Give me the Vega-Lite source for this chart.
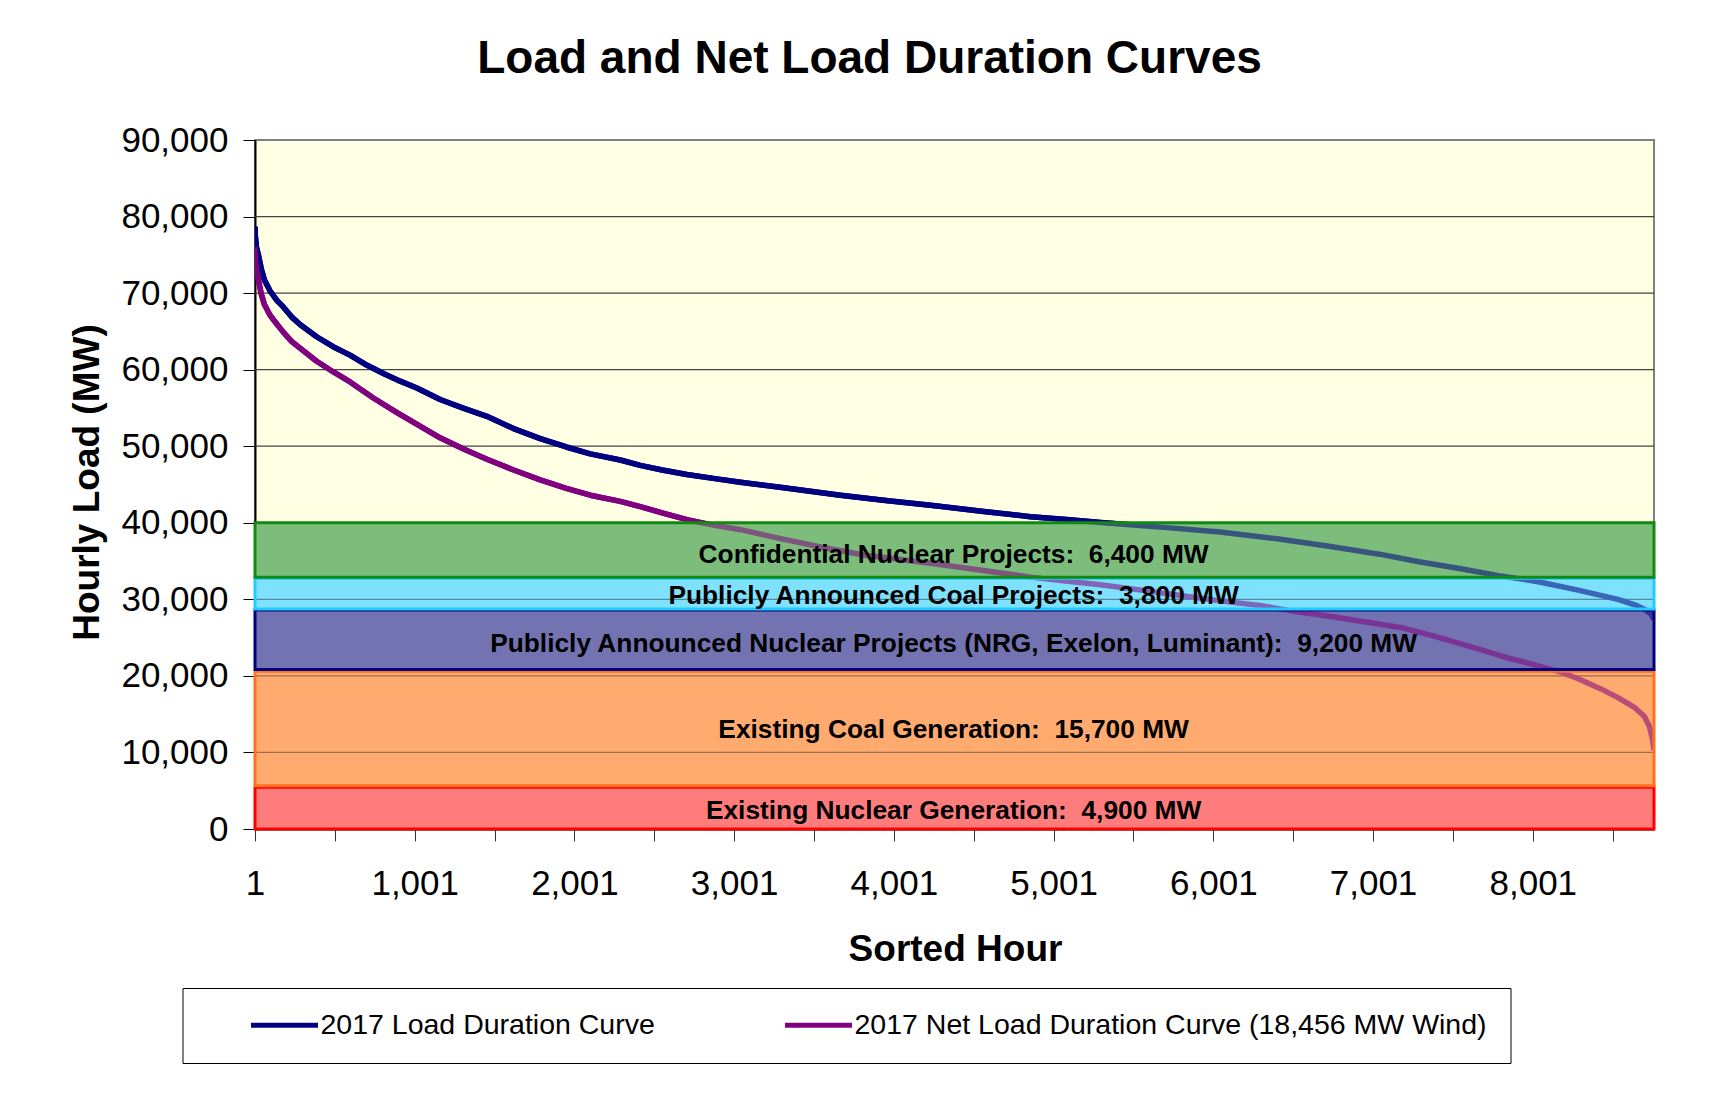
{
  "$schema": "https://vega.github.io/schema/vega-lite/v6.json",
  "autosize": "none",
  "width": 1399,
  "height": 689,
  "padding": {"left": 255, "top": 140, "right": 70, "bottom": 276},
  "background": "#ffffff",
  "title": {"text": "Load and Net Load Duration Curves", "font": "Liberation Sans", "fontSize": 46, "fontWeight": "bold", "color": "#000000", "anchor": "middle", "frame": "group", "baseline": "alphabetic", "offset": 4, "dx": -85},
  "datasets": {
    "curves": [
      {"series": "2017 Load Duration Curve", "hour": 1, "mw": 78700},
      {"series": "2017 Load Duration Curve", "hour": 3, "mw": 77500},
      {"series": "2017 Load Duration Curve", "hour": 10, "mw": 76000},
      {"series": "2017 Load Duration Curve", "hour": 22, "mw": 75000},
      {"series": "2017 Load Duration Curve", "hour": 40, "mw": 73200},
      {"series": "2017 Load Duration Curve", "hour": 60, "mw": 71700},
      {"series": "2017 Load Duration Curve", "hour": 95, "mw": 70300},
      {"series": "2017 Load Duration Curve", "hour": 140, "mw": 69000},
      {"series": "2017 Load Duration Curve", "hour": 178, "mw": 68200},
      {"series": "2017 Load Duration Curve", "hour": 230, "mw": 66900},
      {"series": "2017 Load Duration Curve", "hour": 283, "mw": 65900},
      {"series": "2017 Load Duration Curve", "hour": 387, "mw": 64300},
      {"series": "2017 Load Duration Curve", "hour": 490, "mw": 63000},
      {"series": "2017 Load Duration Curve", "hour": 596, "mw": 61900},
      {"series": "2017 Load Duration Curve", "hour": 700, "mw": 60600},
      {"series": "2017 Load Duration Curve", "hour": 805, "mw": 59500},
      {"series": "2017 Load Duration Curve", "hour": 910, "mw": 58500},
      {"series": "2017 Load Duration Curve", "hour": 1014, "mw": 57600},
      {"series": "2017 Load Duration Curve", "hour": 1160, "mw": 56100},
      {"series": "2017 Load Duration Curve", "hour": 1300, "mw": 55000},
      {"series": "2017 Load Duration Curve", "hour": 1453, "mw": 53900},
      {"series": "2017 Load Duration Curve", "hour": 1620, "mw": 52300},
      {"series": "2017 Load Duration Curve", "hour": 1787, "mw": 51000},
      {"series": "2017 Load Duration Curve", "hour": 1950, "mw": 49900},
      {"series": "2017 Load Duration Curve", "hour": 2100, "mw": 49000},
      {"series": "2017 Load Duration Curve", "hour": 2288, "mw": 48200},
      {"series": "2017 Load Duration Curve", "hour": 2413, "mw": 47500},
      {"series": "2017 Load Duration Curve", "hour": 2550, "mw": 46900},
      {"series": "2017 Load Duration Curve", "hour": 2705, "mw": 46300},
      {"series": "2017 Load Duration Curve", "hour": 2870, "mw": 45800},
      {"series": "2017 Load Duration Curve", "hour": 3040, "mw": 45300},
      {"series": "2017 Load Duration Curve", "hour": 3300, "mw": 44600},
      {"series": "2017 Load Duration Curve", "hour": 3666, "mw": 43600},
      {"series": "2017 Load Duration Curve", "hour": 3950, "mw": 42900},
      {"series": "2017 Load Duration Curve", "hour": 4230, "mw": 42300},
      {"series": "2017 Load Duration Curve", "hour": 4550, "mw": 41500},
      {"series": "2017 Load Duration Curve", "hour": 4857, "mw": 40800},
      {"series": "2017 Load Duration Curve", "hour": 5100, "mw": 40400},
      {"series": "2017 Load Duration Curve", "hour": 5295, "mw": 40050},
      {"series": "2017 Load Duration Curve", "hour": 5500, "mw": 39700},
      {"series": "2017 Load Duration Curve", "hour": 5692, "mw": 39400},
      {"series": "2017 Load Duration Curve", "hour": 6043, "mw": 38800},
      {"series": "2017 Load Duration Curve", "hour": 6400, "mw": 37900},
      {"series": "2017 Load Duration Curve", "hour": 6736, "mw": 36900},
      {"series": "2017 Load Duration Curve", "hour": 7040, "mw": 35900},
      {"series": "2017 Load Duration Curve", "hour": 7289, "mw": 34900},
      {"series": "2017 Load Duration Curve", "hour": 7550, "mw": 34000},
      {"series": "2017 Load Duration Curve", "hour": 7787, "mw": 33100},
      {"series": "2017 Load Duration Curve", "hour": 8036, "mw": 32300},
      {"series": "2017 Load Duration Curve", "hour": 8285, "mw": 31200},
      {"series": "2017 Load Duration Curve", "hour": 8534, "mw": 30000},
      {"series": "2017 Load Duration Curve", "hour": 8650, "mw": 29200},
      {"series": "2017 Load Duration Curve", "hour": 8709, "mw": 28600},
      {"series": "2017 Load Duration Curve", "hour": 8740, "mw": 28100},
      {"series": "2017 Load Duration Curve", "hour": 8760, "mw": 27400},
      {"series": "2017 Net Load Duration Curve (18,456 MW Wind)", "hour": 1, "mw": 76000},
      {"series": "2017 Net Load Duration Curve (18,456 MW Wind)", "hour": 3, "mw": 74500},
      {"series": "2017 Net Load Duration Curve (18,456 MW Wind)", "hour": 10, "mw": 73200},
      {"series": "2017 Net Load Duration Curve (18,456 MW Wind)", "hour": 22, "mw": 71800},
      {"series": "2017 Net Load Duration Curve (18,456 MW Wind)", "hour": 40, "mw": 69900},
      {"series": "2017 Net Load Duration Curve (18,456 MW Wind)", "hour": 60, "mw": 68500},
      {"series": "2017 Net Load Duration Curve (18,456 MW Wind)", "hour": 95, "mw": 67100},
      {"series": "2017 Net Load Duration Curve (18,456 MW Wind)", "hour": 140, "mw": 65900},
      {"series": "2017 Net Load Duration Curve (18,456 MW Wind)", "hour": 178, "mw": 64900},
      {"series": "2017 Net Load Duration Curve (18,456 MW Wind)", "hour": 230, "mw": 63700},
      {"series": "2017 Net Load Duration Curve (18,456 MW Wind)", "hour": 283, "mw": 62800},
      {"series": "2017 Net Load Duration Curve (18,456 MW Wind)", "hour": 387, "mw": 61100},
      {"series": "2017 Net Load Duration Curve (18,456 MW Wind)", "hour": 492, "mw": 59700},
      {"series": "2017 Net Load Duration Curve (18,456 MW Wind)", "hour": 596, "mw": 58400},
      {"series": "2017 Net Load Duration Curve (18,456 MW Wind)", "hour": 742, "mw": 56300},
      {"series": "2017 Net Load Duration Curve (18,456 MW Wind)", "hour": 890, "mw": 54400},
      {"series": "2017 Net Load Duration Curve (18,456 MW Wind)", "hour": 1037, "mw": 52600},
      {"series": "2017 Net Load Duration Curve (18,456 MW Wind)", "hour": 1160, "mw": 51100},
      {"series": "2017 Net Load Duration Curve (18,456 MW Wind)", "hour": 1300, "mw": 49700},
      {"series": "2017 Net Load Duration Curve (18,456 MW Wind)", "hour": 1453, "mw": 48300},
      {"series": "2017 Net Load Duration Curve (18,456 MW Wind)", "hour": 1620, "mw": 46900},
      {"series": "2017 Net Load Duration Curve (18,456 MW Wind)", "hour": 1787, "mw": 45600},
      {"series": "2017 Net Load Duration Curve (18,456 MW Wind)", "hour": 1950, "mw": 44500},
      {"series": "2017 Net Load Duration Curve (18,456 MW Wind)", "hour": 2100, "mw": 43600},
      {"series": "2017 Net Load Duration Curve (18,456 MW Wind)", "hour": 2288, "mw": 42800},
      {"series": "2017 Net Load Duration Curve (18,456 MW Wind)", "hour": 2413, "mw": 42100},
      {"series": "2017 Net Load Duration Curve (18,456 MW Wind)", "hour": 2550, "mw": 41300},
      {"series": "2017 Net Load Duration Curve (18,456 MW Wind)", "hour": 2705, "mw": 40400},
      {"series": "2017 Net Load Duration Curve (18,456 MW Wind)", "hour": 2870, "mw": 39700},
      {"series": "2017 Net Load Duration Curve (18,456 MW Wind)", "hour": 3040, "mw": 39100},
      {"series": "2017 Net Load Duration Curve (18,456 MW Wind)", "hour": 3300, "mw": 37900},
      {"series": "2017 Net Load Duration Curve (18,456 MW Wind)", "hour": 3550, "mw": 36800},
      {"series": "2017 Net Load Duration Curve (18,456 MW Wind)", "hour": 3812, "mw": 35800},
      {"series": "2017 Net Load Duration Curve (18,456 MW Wind)", "hour": 4230, "mw": 34700},
      {"series": "2017 Net Load Duration Curve (18,456 MW Wind)", "hour": 4550, "mw": 33800},
      {"series": "2017 Net Load Duration Curve (18,456 MW Wind)", "hour": 4857, "mw": 32900},
      {"series": "2017 Net Load Duration Curve (18,456 MW Wind)", "hour": 5075, "mw": 32400},
      {"series": "2017 Net Load Duration Curve (18,456 MW Wind)", "hour": 5295, "mw": 31900},
      {"series": "2017 Net Load Duration Curve (18,456 MW Wind)", "hour": 5550, "mw": 31200},
      {"series": "2017 Net Load Duration Curve (18,456 MW Wind)", "hour": 5794, "mw": 30500},
      {"series": "2017 Net Load Duration Curve (18,456 MW Wind)", "hour": 6043, "mw": 29800},
      {"series": "2017 Net Load Duration Curve (18,456 MW Wind)", "hour": 6292, "mw": 29200},
      {"series": "2017 Net Load Duration Curve (18,456 MW Wind)", "hour": 6548, "mw": 28300},
      {"series": "2017 Net Load Duration Curve (18,456 MW Wind)", "hour": 6760, "mw": 27700},
      {"series": "2017 Net Load Duration Curve (18,456 MW Wind)", "hour": 6966, "mw": 27000},
      {"series": "2017 Net Load Duration Curve (18,456 MW Wind)", "hour": 7180, "mw": 26300},
      {"series": "2017 Net Load Duration Curve (18,456 MW Wind)", "hour": 7384, "mw": 25200},
      {"series": "2017 Net Load Duration Curve (18,456 MW Wind)", "hour": 7600, "mw": 23900},
      {"series": "2017 Net Load Duration Curve (18,456 MW Wind)", "hour": 7802, "mw": 22600},
      {"series": "2017 Net Load Duration Curve (18,456 MW Wind)", "hour": 8000, "mw": 21500},
      {"series": "2017 Net Load Duration Curve (18,456 MW Wind)", "hour": 8177, "mw": 20500},
      {"series": "2017 Net Load Duration Curve (18,456 MW Wind)", "hour": 8300, "mw": 19500},
      {"series": "2017 Net Load Duration Curve (18,456 MW Wind)", "hour": 8428, "mw": 18300},
      {"series": "2017 Net Load Duration Curve (18,456 MW Wind)", "hour": 8540, "mw": 17100},
      {"series": "2017 Net Load Duration Curve (18,456 MW Wind)", "hour": 8637, "mw": 15900},
      {"series": "2017 Net Load Duration Curve (18,456 MW Wind)", "hour": 8700, "mw": 14700},
      {"series": "2017 Net Load Duration Curve (18,456 MW Wind)", "hour": 8731, "mw": 13400},
      {"series": "2017 Net Load Duration Curve (18,456 MW Wind)", "hour": 8752, "mw": 11600},
      {"series": "2017 Net Load Duration Curve (18,456 MW Wind)", "hour": 8760, "mw": 10300}
    ],
    "bands": [
      {"band": "Existing Nuclear Generation", "lo": 0, "hi": 5450},
      {"band": "Existing Coal Generation", "lo": 5650, "hi": 20600},
      {"band": "Publicly Announced Nuclear Projects", "lo": 20850, "hi": 28600},
      {"band": "Publicly Announced Coal Projects", "lo": 28750, "hi": 32750},
      {"band": "Confidential Nuclear Projects", "lo": 32900, "hi": 40000}
    ],
    "labels": [
      {"label": "Confidential Nuclear Projects:\u00a0 6,400 MW", "hour": 4375, "mw": 34750},
      {"label": "Publicly Announced Coal Projects:\u00a0 3,800 MW", "hour": 4375, "mw": 29350},
      {"label": "Publicly Announced Nuclear Projects (NRG, Exelon, Luminant):\u00a0 9,200 MW", "hour": 4375, "mw": 23100},
      {"label": "Existing Coal Generation:\u00a0 15,700 MW", "hour": 4375, "mw": 11900},
      {"label": "Existing Nuclear Generation:\u00a0 4,900 MW", "hour": 4375, "mw": 1330}
    ],
    "grid": [
      {"mw": 10000}, {"mw": 20000}, {"mw": 30000}, {"mw": 40000},
      {"mw": 50000}, {"mw": 60000}, {"mw": 70000}, {"mw": 80000}
    ]
  },
  "layer": [
    {
      "data": {"name": "curves"},
      "mark": {"type": "line", "strokeWidth": 5.5, "strokeJoin": "round", "clip": true},
      "encoding": {
        "x": {"field": "hour", "type": "quantitative",
          "scale": {"domain": [1, 8760], "nice": false, "zero": false},
          "axis": {
            "values": [1, 251, 501, 751, 1001, 1251, 1501, 1751, 2001, 2251, 2501, 2751, 3001, 3251, 3501, 3751, 4001, 4251, 4501, 4751, 5001, 5251, 5501, 5751, 6001, 6251, 6501, 6751, 7001, 7251, 7501, 7751, 8001, 8251, 8501, 8751],
            "labelExpr": "(datum.value - 1) % 1000 == 0 ? format(datum.value, ',') : ''",
            "grid": false, "tickSize": 12, "tickColor": "#333333", "tickWidth": 1,
            "domainColor": "#000000", "domainWidth": 2,
            "labelFont": "Liberation Sans", "labelFontSize": 35, "labelColor": "#000000",
            "labelPadding": 53, "labelBaseline": "alphabetic", "labelFlush": false, "labelOverlap": false,
            "title": "Sorted Hour", "titleFont": "Liberation Sans", "titleFontSize": 37, "titleFontWeight": "bold", "titleColor": "#000000",
            "titleBaseline": "alphabetic", "titleX": 700, "titleY": 131.5, "titleAlign": "center"
          }},
        "y": {"field": "mw", "type": "quantitative",
          "scale": {"domain": [0, 90000], "nice": false},
          "axis": {
            "values": [0, 10000, 20000, 30000, 40000, 50000, 60000, 70000, 80000, 90000],
            "labelExpr": "format(datum.value, ',')", "grid": false, "tickSize": 12, "tickColor": "#000000",
            "domainColor": "#000000", "domainWidth": 2,
            "labelFont": "Liberation Sans", "labelFontSize": 35, "labelColor": "#000000", "labelPadding": 15,
            "title": "Hourly Load (MW)", "titleFont": "Liberation Sans", "titleFontSize": 37, "titleFontWeight": "bold", "titleColor": "#000000",
            "titleAngle": 270, "titleBaseline": "alphabetic", "titleAlign": "center", "titleX": -157, "titleY": 342
          }},
        "color": {"field": "series", "type": "nominal",
          "scale": {"domain": ["2017 Load Duration Curve", "2017 Net Load Duration Curve (18,456 MW Wind)"], "range": ["#000080", "#800080"]},
          "legend": {
            "title": null, "orient": "none", "legendX": -72.5, "legendY": 848, "direction": "horizontal",
            "symbolType": "stroke", "symbolSize": 4489, "symbolStrokeWidth": 5, "clipHeight": 28,
            "labelFont": "Liberation Sans", "labelFontSize": 28.5, "labelColor": "#000000", "labelOffset": 0, "labelLimit": 1000,
            "labelExpr": "datum.index == 1 ? datum.label + '\u2003\u2002' : datum.label",
            "columnPadding": 84, "symbolOffset": 43, "padding": 23,
            "strokeColor": "#000000", "fillColor": "#ffffff"
          }},
        "order": {"field": "hour", "type": "quantitative"}
      }
    },
    {
      "data": {"name": "bands"},
      "mark": {"type": "rect", "strokeWidth": 0},
      "encoding": {
        "y": {"field": "lo", "type": "quantitative"},
        "y2": {"field": "hi"},
        "fill": {"field": "band", "type": "nominal", "legend": null,
          "scale": {"domain": ["Existing Nuclear Generation", "Existing Coal Generation", "Publicly Announced Nuclear Projects", "Publicly Announced Coal Projects", "Confidential Nuclear Projects"],
                    "range": ["#FF7C7C", "#FFAA6E", "#7474B2", "#7EE2FF", "#7DBD7D"]}}
      }
    },
    {
      "data": {"name": "grid"},
      "mark": {"type": "rule", "color": "#303030", "strokeWidth": 1.2, "opacity": 0.9},
      "encoding": {
        "y": {"field": "mw", "type": "quantitative"}
      }
    },
    {
      "data": {"name": "curves"},
      "mark": {"type": "line", "strokeWidth": 5.5, "strokeJoin": "round", "clip": true},
      "encoding": {
        "x": {"field": "hour", "type": "quantitative"},
        "y": {"field": "mw", "type": "quantitative"},
        "color": {"field": "series", "type": "nominal"},
        "order": {"field": "hour", "type": "quantitative"}
      }
    },
    {
      "data": {"name": "bands"},
      "mark": {"type": "rect", "fillOpacity": 0.45, "strokeWidth": 3},
      "encoding": {
        "y": {"field": "lo", "type": "quantitative"},
        "y2": {"field": "hi"},
        "fill": {"field": "band", "type": "nominal", "legend": null},
        "stroke": {"field": "band", "type": "nominal", "legend": null,
          "scale": {"domain": ["Existing Nuclear Generation", "Existing Coal Generation", "Publicly Announced Nuclear Projects", "Publicly Announced Coal Projects", "Confidential Nuclear Projects"],
                    "range": ["#FF0000", "#FF7020", "#000080", "#22CCFF", "#118A11"]}}
      }
    },
    {
      "data": {"name": "labels"},
      "mark": {"type": "text", "font": "Liberation Sans", "fontSize": 26.3, "fontWeight": "bold", "color": "#000000", "align": "center", "baseline": "alphabetic"},
      "encoding": {
        "x": {"field": "hour", "type": "quantitative"},
        "y": {"field": "mw", "type": "quantitative"},
        "text": {"field": "label", "type": "nominal"}
      }
    }
  ],
  "config": {
    "font": "Liberation Sans",
    "view": {"stroke": "#808080", "strokeWidth": 2, "fill": "#FFFFE4"}
  }
}
